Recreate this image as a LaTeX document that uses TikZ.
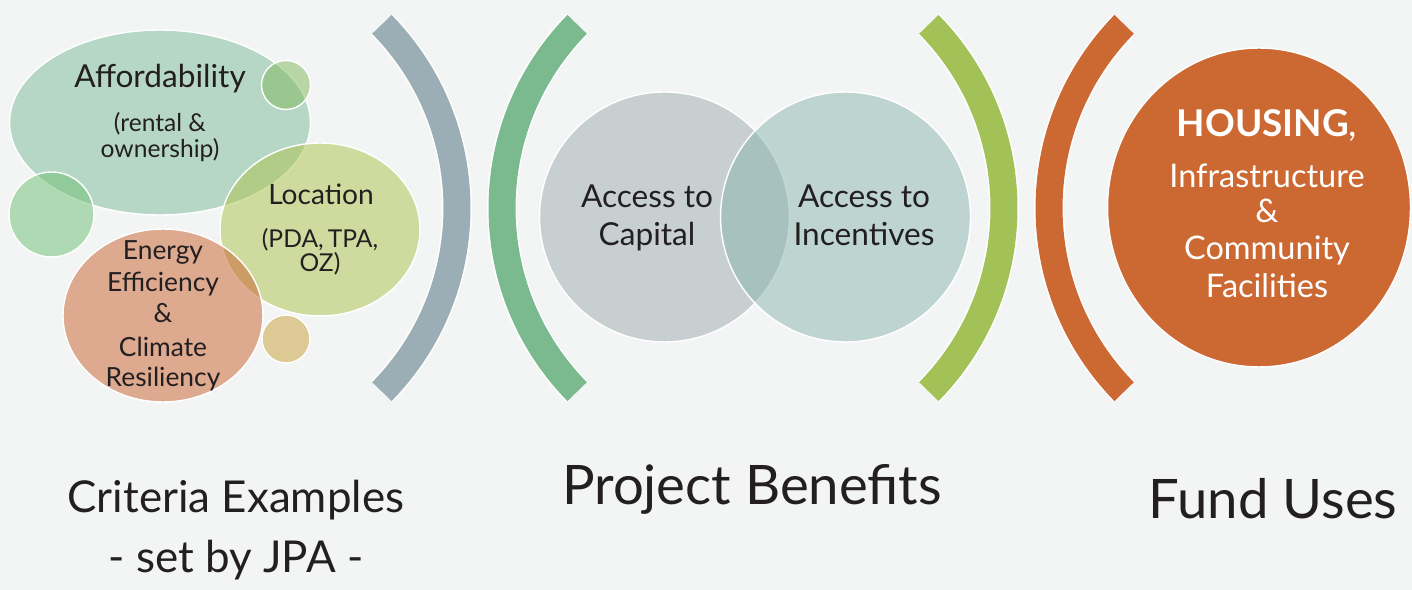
\documentclass[tikz,border=0pt]{standalone}
\usepackage{fontspec}
\setmainfont{Lato}
\usetikzlibrary{shapes.geometric}

\definecolor{pagebg}{HTML}{F3F4F4}
\definecolor{ink}{HTML}{231F20}
\definecolor{afford}{HTML}{7CBB9A}
\definecolor{locat}{HTML}{ACC34A}
\definecolor{energy}{HTML}{C85F2C}
\definecolor{dotgreen}{HTML}{7EB85A}
\definecolor{dotmint}{HTML}{6CBF72}
\definecolor{dotsand}{HTML}{C89F36}
\definecolor{capital}{HTML}{9CABAE}
\definecolor{incent}{HTML}{88B5B0}
\definecolor{archgray}{HTML}{9BAEB5}
\definecolor{archgreen}{HTML}{7ABA8E}
\definecolor{archlime}{HTML}{A2C258}
\definecolor{archorange}{HTML}{CC6832}

\begin{document}
\begin{tikzpicture}[
    x=0.02cm, y=-0.02cm,
    bubble/.style={ellipse, draw=white, line width=0.8pt, fill opacity=0.5,
                   draw opacity=1, inner sep=0pt},
    txt/.style={anchor=base, inner sep=0pt, text=ink},
    bracket/.style={line width=0.54cm, line cap=butt},
    fs/.style={font=\fontsize{#1}{#1}\selectfont}
  ]
  \fill[pagebg] (0,0) rectangle (1412,590);
  \useasboundingbox (0,0) rectangle (1412,590);

  % Criteria bubbles
  \node[bubble, fill=afford, minimum width=6.02cm, minimum height=3.7cm]
    (afford) at (160,122.5) {};
  \node[bubble, fill=dotmint, minimum width=1.7cm, minimum height=1.7cm]
    (dotl) at (51.5,214.5) {};
  \node[bubble, fill=dotgreen, minimum width=0.98cm, minimum height=0.98cm]
    (dott) at (286,85) {};
  \node[bubble, fill=locat, minimum width=4cm, minimum height=3.46cm]
    (locat) at (320,229.5) {};
  \node[bubble, fill=energy, minimum width=4cm, minimum height=3.46cm]
    (energy) at (163,315.5) {};
  \node[bubble, fill=dotsand, minimum width=0.96cm, minimum height=0.96cm]
    (dotb) at (286,339) {};

  \node[txt, fs=18] (t-afford) at (160,88) {Affordability};
  \node[txt, fs=14] (t-rental) at (160,132) {(rental \&};
  \node[txt, fs=14] (t-owner) at (160,158) {ownership)};
  \node[txt, fs=16] (t-locat) at (321,205) {Location};
  \node[txt, fs=14] (t-pda) at (320,248) {(PDA,\,TPA,};
  \node[txt, fs=14] (t-oz) at (320,272) {OZ)};
  \foreach \y/\t in {260/Energy, 292/Efficiency, 323/\&, 357/Climate,
                     387/Resiliency}
    \node[txt, fs=15] (t-en\y) at (163,\y) {\t};

  % Brackets
  \foreach \cx/\a/\col in {195/0/archgray, 764/180/archgreen,
                           742/0/archlime, 1311/180/archorange} {
    \draw[bracket, white, line width=0.6cm] (\cx,208) ++(\a-44.5:262)
      arc[start angle=\a-44.5, end angle=\a+44.5, radius=262];
    \draw[bracket, \col] (\cx,208) ++(\a-44.5:262)
      arc[start angle=\a-44.5, end angle=\a+44.5, radius=262];
  }

  % Benefits
  \node[bubble, circle, fill=capital, minimum size=5cm] (capital) at (664.5,217) {};
  \node[bubble, circle, fill=incent, minimum size=5cm] (incent) at (845.5,217) {};
  \node[txt, fs=18] (t-acc1) at (647,208) {Access to};
  \node[txt, fs=18] (t-cap) at (647,246) {Capital};
  \node[txt, fs=18] (t-acc2) at (864,208) {Access to};
  \node[txt, fs=18] (t-inc) at (864,246) {Incentives};

  % Uses
  \node[ellipse, draw=white, line width=0.8pt, fill=archorange,
        minimum width=6.06cm, minimum height=6.38cm] (uses) at (1259,207.5) {};
  \node[txt, fs=21, text=white] (t-house) at (1267,137) {\bfseries HOUSING\mdseries,};
  \foreach \y/\t in {188/Infrastructure, 223/\&, 260/Community, 298/Facilities}
    \node[txt, fs=18.5, text=white] (t-use\y) at (1267,\y) {\t};

  % Column titles
  \node[txt, fs=25] (crit) at (236,513) {Criteria Examples};
  \node[txt, fs=25] (jpa) at (236,572) {- set by JPA -};
  \node[txt, fs=31] (bene) at (752,505) {Project Benefits};
  \node[txt, fs=31] (fund) at (1273,519) {Fund Uses};
\end{tikzpicture}
\end{document}
